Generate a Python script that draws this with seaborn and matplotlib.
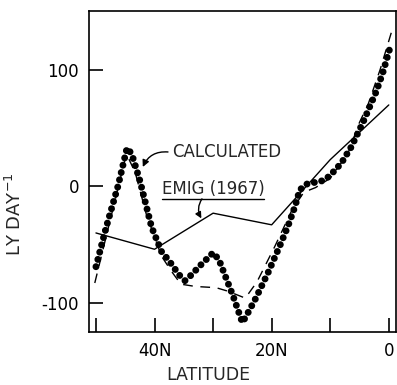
"""Calculated vs Emig (1967) profile against latitude."""

import matplotlib
matplotlib.use("Agg")
import matplotlib.pyplot as plt
import seaborn as sns
from matplotlib.lines import Line2D

# calculated curve (drawn dotted), latitude deg N / ly per day
calc_lat = [50.0, 48.3, 46.2, 44.7, 43.9, 42.5, 40.5, 38.8, 37.5, 35.8, 34.8,
            33.7, 32.4, 30.0, 29.0, 28.0, 26.6, 25.0, 24.3, 22.7, 20.6, 18.6,
            17.2, 16.0, 15.2, 14.0, 11.2, 10.1, 8.1, 6.4, 4.4, 2.1, 1.0, -0.2]
calc_val = [-69, -36, 1, 33, 28, 5, -35, -56, -64, -76, -81,
            -76, -69, -57, -63, -76, -94, -117, -111, -96, -74, -51,
            -34, -17, -3, 2, 5, 9, 20, 34, 55, 82, 98, 119]

# dashed curve
dash_lat = [50.2, 44.8, 43.3, 41.4, 38.8, 37.1, 35.5, 33.0, 29.5, 27.5, 24.5,
            22.5, 19.5, 16.5, 14.5, 12.5, 10.0, 7.0, 5.0, 3.5, 1.5, -0.6]
dash_val = [-83, 28, 12, -24, -60, -73, -84, -86, -87, -90, -96,
            -82, -52, -20, -5, -1, 7, 28, 55, 71, 100, 135]

# Emig (1967)
emig_lat = [50, 40, 30, 20, 10, 0]
emig_val = [-40, -54, -23, -33, 23, 70]

xtick_pos = [50, 40, 30, 20, 10, 0]
xtick_labels = ["", "40N", "", "20N", "", "0"]
ytick_pos = [-100, 0, 100]
ytick_labels = ["-100", "0", "100"]

sns.set_style("ticks")
plt.rcParams["font.family"] = ["DejaVu Sans"]

fig = plt.figure(figsize=(3.97, 3.85), dpi=100)
ax = fig.add_axes([0.224, 0.138, 0.773, 0.833])

sns.lineplot(x=dash_lat, y=dash_val, sort=False, estimator=None, ax=ax,
             color="black", lw=1.0, linestyle=(0, (7, 5.5)))
sns.lineplot(x=emig_lat, y=emig_val, sort=False, estimator=None, ax=ax,
             color="black", lw=1.0)
sns.lineplot(x=calc_lat, y=calc_val, sort=False, estimator=None, ax=ax,
             color="black", lw=5.0, linestyle=(0, (0.01, 1.07)),
             dash_capstyle="round")

ax.set_xlim(51.2, -1.2)
ax.set_ylim(-125, 150.6)
ax.set_xticks(xtick_pos)
ax.set_xticklabels(xtick_labels)
ax.set_yticks(ytick_pos)
ax.set_yticklabels(ytick_labels)
ax.tick_params(direction="in", length=10, width=1.2, pad=7, labelsize=12,
               colors="black")
for sp in ax.spines.values():
    sp.set_linewidth(1.2)
    sp.set_color("black")

ax.set_xlabel("LATITUDE", fontsize=12.5, va="baseline")
ax.set_ylabel("LY DAY$^{-1}$", fontsize=13)
ax.xaxis.set_label_coords(0.388, -0.1495)
ax.yaxis.set_label_coords(-0.208, 0.368)

# labels and pointer arrows
ax.text(37.0, 29.2, "CALCULATED", fontsize=12, ha="left", va="center")
ax.annotate("", xy=(42.0, 16.7), xytext=(37.7, 29.6),
            arrowprops=dict(arrowstyle="-|>", connectionstyle="arc3,rad=0.35",
                            color="black", lw=1.0, mutation_scale=10,
                            shrinkA=0, shrinkB=0))
emig_txt = ax.text(30.0, -2.1, "EMIG (1967)", fontsize=12, ha="center",
                   va="center")
ax.annotate("", xy=(32.0, -27.5), xytext=(31.9, -10.7),
            arrowprops=dict(arrowstyle="-|>", connectionstyle="arc3,rad=0.3",
                            color="black", lw=1.0, mutation_scale=9,
                            shrinkA=0, shrinkB=0))

# underline under the EMIG label
fig.canvas.draw()
bb = emig_txt.get_window_extent()
inv = fig.transFigure.inverted()
(x0, y0), (x1, _) = inv.transform([(bb.x0, bb.y0 - 1), (bb.x1, bb.y0 - 1)])
fig.add_artist(Line2D([x0, x1], [y0, y0], transform=fig.transFigure,
                      color="black", lw=1.0))

fig.savefig("out.png", dpi=100)
